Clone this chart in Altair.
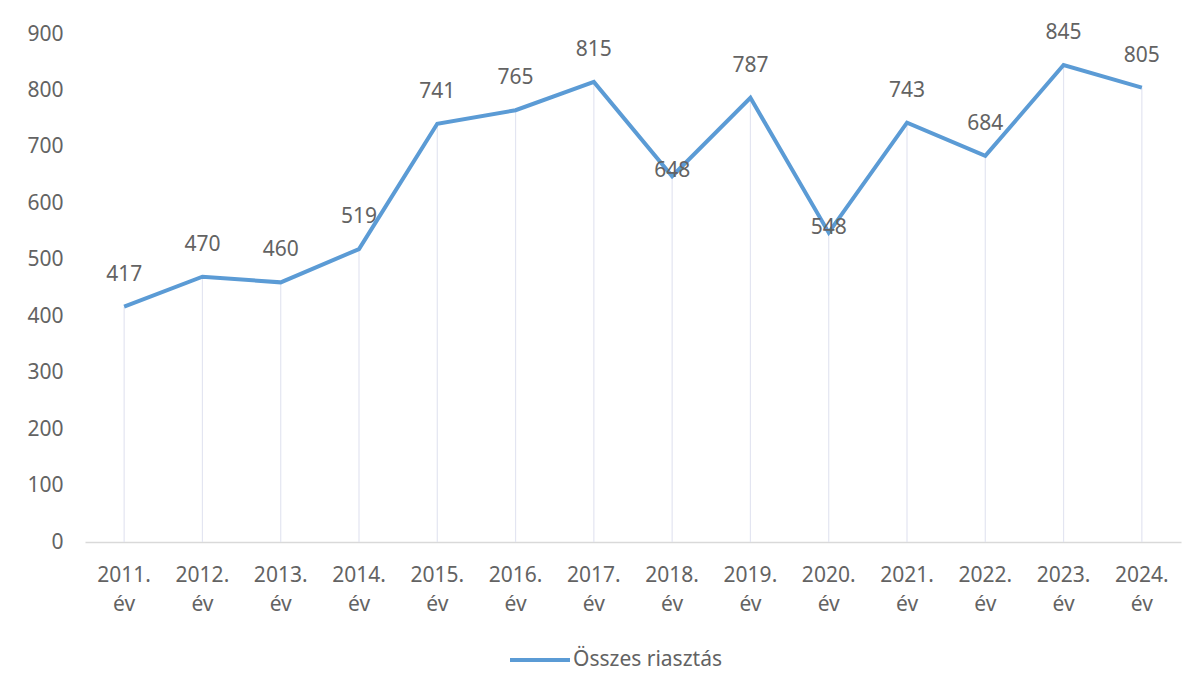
import altair as alt
import pandas as pd

years = ["2011. év", "2012. év", "2013. év", "2014. év", "2015. év", "2016. év", "2017. év",
         "2018. év", "2019. év", "2020. év", "2021. év", "2022. év", "2023. év", "2024. év"]
values = [417, 470, 460, 519, 741, 765, 815, 648, 787, 548, 743, 684, 845, 805]
series_name = "Összes riasztás"
centered_labels = ["2018. év", "2020. év"]
y_ticks = [0, 100, 200, 300, 400, 500, 600, 700, 800, 900]

df = pd.DataFrame({"year": years, "value": values, "series": [series_name] * len(years)})

FONT = "Noto Sans"
TXT = "#636363"

x = alt.X("year:N", sort=years, title=None,
          axis=alt.Axis(labelAngle=0, labelExpr="split(datum.label, ' ')",
                        labelFontSize=21, labelFont=FONT, labelColor=TXT,
                        labelLineHeight=29, labelPadding=22, ticks=False,
                        domainColor="#d9d9d9", domainWidth=1.5, labelBaseline="top"))
y = alt.Y("value:Q", title=None,
          scale=alt.Scale(domain=[0, 900], nice=False, zero=True),
          axis=alt.Axis(values=y_ticks, grid=False, domain=False, ticks=False,
                        labelFontSize=21, labelFont=FONT, labelColor=TXT,
                        labelPadding=22))

base = alt.Chart(df)

drops = base.mark_rule(color="#e3e5f1", strokeWidth=1.2).encode(x=x, y=y, y2=alt.datum(0))

line = base.mark_line(strokeWidth=4, strokeJoin="miter").encode(
    x=x, y=y,
    color=alt.Color("series:N", scale=alt.Scale(range=["#5B9BD5"]),
                    legend=alt.Legend(title=None, orient="none", legendX=423, legendY=594,
                                      symbolType="stroke", symbolSize=3600,
                                      symbolStrokeWidth=4, labelFontSize=21,
                                      labelFont=FONT, labelColor=TXT, labelOffset=1)))

above = base.transform_filter(
    ~alt.FieldOneOfPredicate(field="year", oneOf=centered_labels)
).mark_text(dy=-32, fontSize=21, font=FONT, color=TXT).encode(
    x=x, y=y, text="value:Q")

centered = base.transform_filter(
    alt.FieldOneOfPredicate(field="year", oneOf=centered_labels)
).mark_text(dy=-5, fontSize=21, font=FONT, color=TXT).encode(
    x=x, y=y, text="value:Q")

chart = alt.layer(drops, line, above, centered).properties(
    width=1096, height=508,
    background="white",
    autosize=alt.AutoSizeParams(type="none"),
    padding={"left": 77, "top": 26, "right": 14, "bottom": 155},
).configure_view(stroke=None)

chart.save("out.html", embed_options={"renderer": "svg", "actions": False})
